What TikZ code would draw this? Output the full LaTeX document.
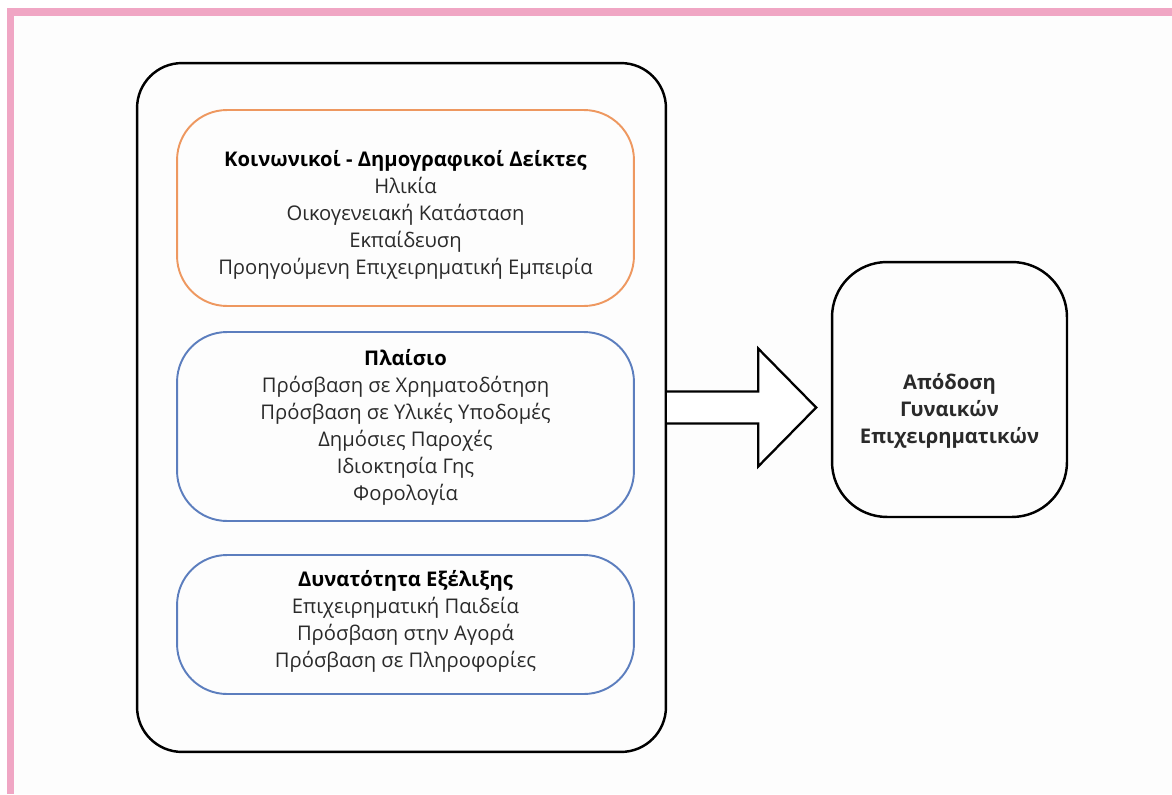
\documentclass[tikz,border=0pt]{standalone}
\usepackage{fontspec}
\setmainfont{Open Sans}
\usetikzlibrary{calc, positioning}
\definecolor{pinkframe}{RGB}{240, 166, 196}
\definecolor{orangeline}{RGB}{238, 152, 96}
\definecolor{blueline}{RGB}{92, 126, 190}
\definecolor{txt}{HTML}{2a2a2a}
\definecolor{paper}{HTML}{fdfdfd}

\tikzset{
    factorbox/.style={draw, rounded corners=1cm, line width=1.1pt,
        minimum width=9.14cm, inner sep=0pt},
    factortext/.style={align=center, text=txt, inner sep=0pt,
        font=\fontsize{11.5}{15.3}\selectfont},
    outerbox/.style={draw=black, rounded corners=0.9cm, line width=1.4pt,
        minimum width=10.58cm, minimum height=13.78cm, inner sep=0pt},
    resultbox/.style={draw=black, rounded corners=1.1cm, line width=1.4pt,
        minimum width=4.7cm, minimum height=5.1cm, inner sep=0pt},
    arrowline/.style={draw=black, line width=1.3pt, line join=miter, fill=white}
}

\begin{document}
\begin{tikzpicture}[x=0.02cm, y=-0.02cm]
    \useasboundingbox (0, 0) rectangle (1172, 794);
    \fill[paper] (14, 16) rectangle (1172, 794);

    % pink page frame
    \fill[pinkframe] (7, 8) rectangle (1172, 16);
    \fill[pinkframe] (7, 8) rectangle (14, 794);

    \node[outerbox] (outer) at (401.5, 407.5) {};

    \node[factorbox, draw=orangeline, minimum height=3.92cm] (social) at (405.5, 208) {};
    \node[factortext] (socialtext) at ($(social.center)+(0, 7)$)
        {\textbf{\color{black}Κοινωνικοί - Δημογραφικοί Δείκτες}\\
         Ηλικία\\
         Οικογενειακή Κατάσταση\\
         Εκπαίδευση\\
         Προηγούμενη Επιχειρηματική Εμπειρία};

    \node[factorbox, draw=blueline, minimum height=3.78cm] (context) at (405.5, 426.5) {};
    \node[factortext] (contexttext) at ($(context.center)+(0, 1)$)
        {\textbf{\color{black}Πλαίσιο}\\
         Πρόσβαση σε Χρηματοδότηση\\
         Πρόσβαση σε Υλικές Υποδομές\\
         Δημόσιες Παροχές\\
         Ιδιοκτησία Γης\\
         Φορολογία};

    \node[factorbox, draw=blueline, minimum height=2.78cm] (growth) at (405.5, 624.5) {};
    \node[factortext] (growthtext) at ($(growth.center)+(0, -3)$)
        {\textbf{\color{black}Δυνατότητα Εξέλιξης}\\
         Επιχειρηματική Παιδεία\\
         Πρόσβαση στην Αγορά\\
         Πρόσβαση σε Πληροφορίες};

    \node[resultbox] (perf) at (949.5, 389.5) {};
    \node[factortext, font=\bfseries\fontsize{11.5}{15.3}\selectfont]
        (perflabel) at ($(perf.center)+(0, 21)$)
        {Απόδοση\\Γυναικών\\Επιχειρηματικών};

    % block arrow
    \coordinate (tip) at ($(outer.east)+(149, 0)$);
    \draw[arrowline] ($(outer.east)+(0, -16)$) -- ++(91, 0) -- ++(0, -43)
        -- (tip) -- ($(outer.east)+(91, 59)$) -- ++(0, -43) -- ++(-91, 0);
\end{tikzpicture}
\end{document}
